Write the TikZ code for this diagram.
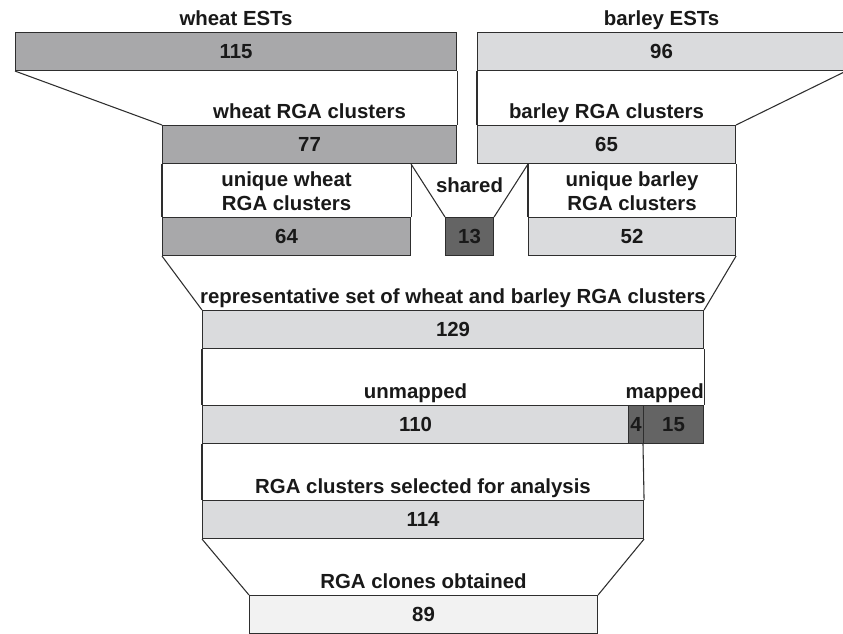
\documentclass[tikz,border=0pt]{standalone}
\usepackage{fontspec}
\setmainfont{Liberation Sans}
\usetikzlibrary{positioning}
\definecolor{wheatgray}{HTML}{A8A8AA}
\definecolor{barleygray}{HTML}{DADBDD}
\definecolor{sharedgray}{HTML}{646464}
\definecolor{clonegray}{HTML}{F2F2F2}
\definecolor{edgegray}{HTML}{2E2E2E}
\newcommand {\numbox}[5] {\node[numbox, fill=#4, minimum width=#3*0.75pt] (#1) at (#2) {#5};}
\newcommand {\boxlab}[3] {\node[lab, above=5pt of #2] (#1) {#3};}

\begin{document}
\begin{tikzpicture}[x=0.75pt, y=-0.75pt,
        numbox/.style={draw=edgegray, line width=0.8pt, anchor=north west, inner sep=0pt,
            minimum height=28.5pt, text=black!90, font=\fontsize{15.3}{17.5}\selectfont\bfseries},
        lab/.style={inner sep=0pt, text depth=0pt, align=center, text=black!90,
            font=\fontsize{15.3}{17.5}\selectfont\bfseries},
        edge/.style={draw=edgegray, line width=0.8pt}]
        \useasboundingbox (0,0) rectangle (843,633);
        % boxes
        \numbox{w115}{15,32}{441}{wheatgray}{115};
        \numbox{b96}{477,32}{368}{barleygray}{96};
        \numbox{wrga}{162,125}{294}{wheatgray}{77};
        \numbox{brga}{477,125}{258}{barleygray}{65};
        \numbox{wuni}{162,217}{248}{wheatgray}{64};
        \numbox{shr}{445,217}{48}{sharedgray}{13};
        \numbox{buni}{528,217}{207}{barleygray}{52};
        \numbox{rep}{202,310}{501}{barleygray}{129};
        \numbox{unm}{202,405}{426}{barleygray}{110};
        \numbox{m4}{628,405}{15}{sharedgray}{4};
        \numbox{m15}{643,405}{60}{sharedgray}{15};
        \numbox{sel}{202,500}{441}{barleygray}{114};
        \numbox{clo}{249,595}{348}{clonegray}{89};
        % labels
        \boxlab{lw}{w115}{wheat ESTs};
        \boxlab{lb}{b96}{barley ESTs};
        \boxlab{lwrga}{wrga}{wheat RGA clusters};
        \boxlab{lbrga}{brga}{barley RGA clusters};
        \boxlab{lwuni}{wuni}{unique wheat\\RGA clusters};
        \boxlab{lbuni}{buni}{unique barley\\RGA clusters};
        \node[lab, above=18pt of shr] (lshr) {shared};
        \boxlab{lrep}{rep}{representative set of wheat and barley RGA clusters};
        \boxlab{lunm}{unm}{unmapped};
        \node[lab, above left=5pt and 0pt of m15.north east] (lmap) {mapped};
        \boxlab{lsel}{sel}{RGA clusters selected for analysis};
        \boxlab{lclo}{clo}{RGA clones obtained};
        % funnel sides
        \draw[edge] (w115.south west) -- (wrga.north west);
        \draw[edge] (w115.south east) -- (wrga.north east);
        \draw[edge] (b96.south west) -- (brga.north west);
        \draw[edge] (b96.south east) -- (brga.north east);
        \draw[edge] (wrga.south west) -- (wuni.north west);
        \draw[edge] (wuni.north east |- wrga.south) -- (wuni.north east);
        \draw[edge] (wuni.north east |- wrga.south) -- (shr.north west);
        \draw[edge] (buni.north west |- brga.south) -- (shr.north east);
        \draw[edge] (buni.north west |- brga.south) -- (buni.north west);
        \draw[edge] (brga.south east) -- (buni.north east);
        \draw[edge] (wuni.south west) -- (rep.north west);
        \draw[edge] (buni.south east) -- (rep.north east);
        \draw[edge] (rep.south west) -- (unm.north west);
        \draw[edge] (rep.south east) -- (m15.north east);
        \draw[edge] (unm.south west) -- (sel.north west);
        \draw[edge] (m15.south west) -- (sel.north east);
        \draw[edge] (sel.south west) -- (clo.north west);
        \draw[edge] (sel.south east) -- (clo.north east);
    \end{tikzpicture}
\end{document}
